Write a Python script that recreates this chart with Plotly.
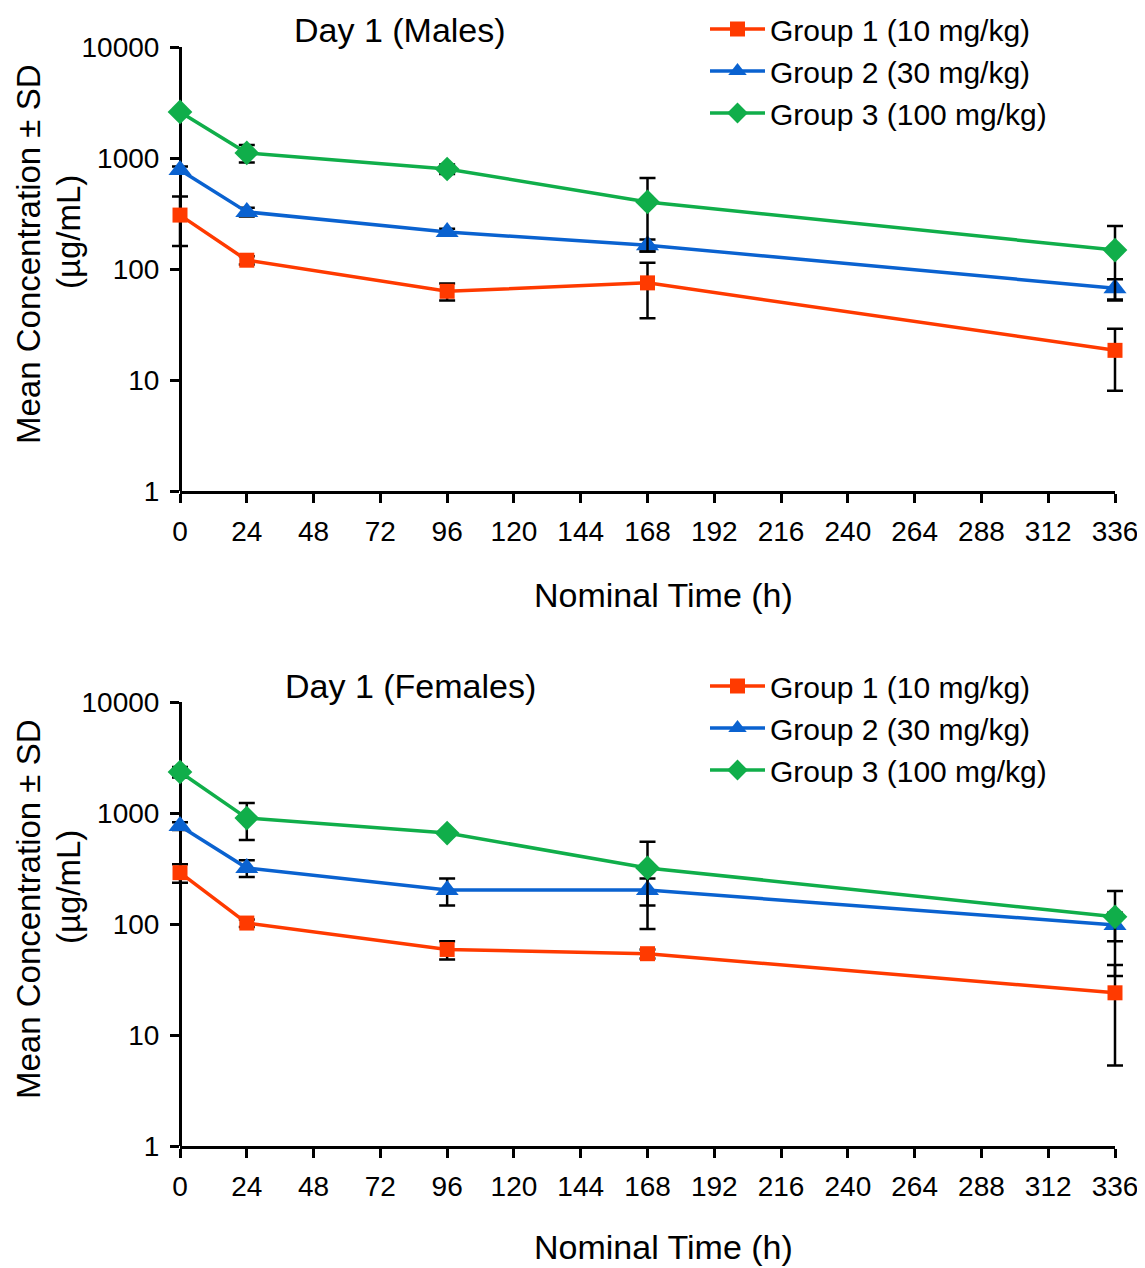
import plotly.graph_objects as go

times = [0, 24, 96, 168, 336]
x_ticks = list(range(0, 337, 24))
y_tickvals = [1, 10, 100, 1000, 10000]
y_ticktext = ["1", "10", "100", "1000", "10000"]

group_names = ["Group 1 (10 mg/kg)", "Group 2 (30 mg/kg)", "Group 3 (100 mg/kg)"]

# Males
g1_m = [306, 120, 63, 75, 18.5]
g1_m_sd = [145, 10, 11, 39, 10.5]
g2_m = [780, 327, 215, 164, 67]
g2_m_sd = [60, 30, 15, 20, 14]
g3_m = [2600, 1110, 796, 402, 148]
g3_m_sd = [150, 200, 80, 258, 96]

# Females
g1_f = [290, 102, 59, 54, 24]
g1_f_sd = [55, 8, 11, 5, 18.7]
g2_f = [764, 320, 202, 202, 98]
g2_f_sd = [60, 55, 55, 55, 28]
g3_f = [2340, 900, 660, 320, 116]
g3_f_sd = [250, 330, 40, 230, 82]

colors = ["#FF3A00", "#0A62D0", "#10AE4A"]
symbols = ["square", "triangle-up", "diamond"]
msizes = [15, 20, 19]

FONT = "Liberation Sans, Arial, sans-serif"

# page offset of 8px (body margin) -> figure coords = page coords - 8
OFF = 8
W, H = 1137, 1260
ml, mr = 150, 10
mt = 47 - OFF
mb = H - (1146 - OFF)
ph = H - mt - mb
pw = W - ml - mr
top_dom = [(1146 - 491) / ph, 1.0]
bot_dom = [0.0, (1146 - 702) / ph]

def py(p):
    return (H - mb - (p - OFF)) / ph

def px(p):
    return ((p - OFF) - ml) / pw

# visible axes: t=0 at page x 180, t=336 at page x 1115
x_dom = [px(180), px(1115)]
hpp = 336 / (1115 - 180)  # hours per pixel
# hidden data axes span the full width so error-bar caps are not clipped
data_range = [0 - (x_dom[0] * pw) * hpp, 336 + ((1 - x_dom[1]) * pw) * hpp]

fig = go.Figure()

# empty traces so the visible axis subplots exist
for xa, ya in [("x", "y"), ("x2", "y2")]:
    fig.add_trace(go.Scatter(x=[], y=[], xaxis=xa, yaxis=ya, showlegend=False,
                             hoverinfo="skip"))

panels = [
    ("x3", "y", "legend", [(g1_m, g1_m_sd), (g2_m, g2_m_sd), (g3_m, g3_m_sd)]),
    ("x4", "y2", "legend2", [(g1_f, g1_f_sd), (g2_f, g2_f_sd), (g3_f, g3_f_sd)]),
]

for xa, ya, lg, series in panels:
    for i, (vals, sds) in enumerate(series):
        fig.add_trace(go.Scatter(
            x=times, y=vals, name=group_names[i], xaxis=xa, yaxis=ya, legend=lg,
            mode="lines+markers",
            line=dict(color=colors[i], width=3.5),
            marker=dict(symbol=symbols[i], size=msizes[i], color=colors[i]),
            error_y=dict(type="data", array=sds, visible=True, color="black",
                         thickness=2.5, width=8),
            cliponaxis=False,
        ))

axis_common = dict(
    showline=True, linecolor="black", linewidth=3, ticks="outside",
    ticklen=9, tickwidth=3, tickcolor="black", showgrid=False, zeroline=False,
    tickfont=dict(family=FONT, size=28, color="black"), layer="below traces",
)
hidden = dict(visible=False, range=data_range, domain=[0, 1], showgrid=False, zeroline=False)

fig.update_layout(
    width=W, height=H,
    margin=dict(l=ml, r=mr, t=mt, b=mb, autoexpand=False),
    paper_bgcolor="white", plot_bgcolor="rgba(0,0,0,0)",
    font=dict(family=FONT, color="black"),
    xaxis=dict(axis_common, range=[0, 336], tickvals=x_ticks, anchor="y", domain=x_dom,
               ticklabelstandoff=4),
    yaxis=dict(axis_common, type="log", range=[0, 4], tickvals=y_tickvals, ticktext=y_ticktext,
               anchor="free", position=x_dom[0], domain=top_dom, ticklabelstandoff=5),
    xaxis2=dict(axis_common, range=[0, 336], tickvals=x_ticks, anchor="y2", domain=x_dom,
                ticklabelstandoff=4),
    yaxis2=dict(axis_common, type="log", range=[0, 4], tickvals=y_tickvals, ticktext=y_ticktext,
                anchor="free", position=x_dom[0], domain=bot_dom, ticklabelstandoff=5),
    xaxis3=dict(hidden, anchor="y"),
    xaxis4=dict(hidden, anchor="y2"),
    legend=dict(x=px(705), y=py(3), xanchor="left", yanchor="top", bgcolor="rgba(0,0,0,0)",
                font=dict(family=FONT, size=30, color="black"), tracegroupgap=0,
                itemwidth=55),
    legend2=dict(x=px(705), y=py(660), xanchor="left", yanchor="top",
                 bgcolor="rgba(0,0,0,0)",
                 font=dict(family=FONT, size=30, color="black"), tracegroupgap=0,
                 itemwidth=55),
    showlegend=True,
)

annots = []
for title, tx, ty, cy1, cy2, xt in [("Day 1 (Males)", 400, 30, 255, 232, 595),
                                    ("Day 1 (Females)", 410, 686, 910, 887, 1247)]:
    annots.append(dict(text=title, x=px(tx), y=py(ty), xref="paper", yref="paper",
                       xanchor="center", yanchor="middle", showarrow=False,
                       font=dict(family=FONT, size=34, color="black")))
    annots.append(dict(text="Nominal Time (h)", x=px(663), y=py(xt),
                       xref="paper", yref="paper", xanchor="center", yanchor="middle",
                       showarrow=False, font=dict(family=FONT, size=34, color="black")))
    annots.append(dict(text="Mean Concentration ± SD", x=px(28), y=py(cy1),
                       xref="paper", yref="paper", xanchor="center", yanchor="middle",
                       showarrow=False, textangle=-90,
                       font=dict(family=FONT, size=33, color="black")))
    annots.append(dict(text="(µg/mL)", x=px(68), y=py(cy2),
                       xref="paper", yref="paper", xanchor="center", yanchor="middle",
                       showarrow=False, textangle=-90,
                       font=dict(family=FONT, size=33, color="black")))
fig.update_layout(annotations=annots)

fig.write_html("out.html")
